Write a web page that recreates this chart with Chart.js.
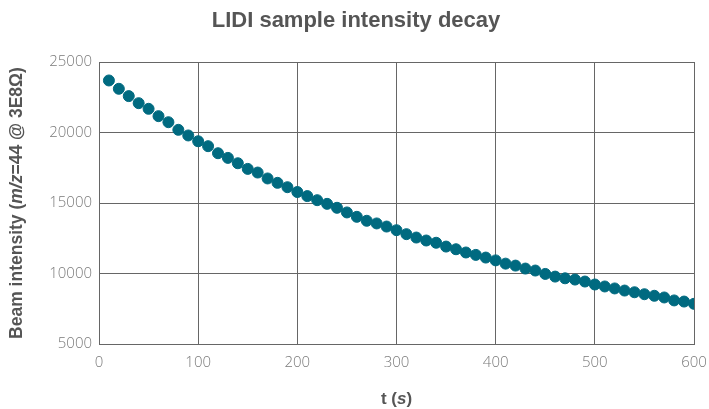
<!DOCTYPE html>
<html>
<head>
<meta charset="utf-8">
<script src="https://cdn.jsdelivr.net/npm/chart.js@4"></script>
<style>
  html, body { margin: 0; padding: 0; background: #fff; }
</style>
</head>
<body>
<canvas id="decay" width="709" height="409"></canvas>
<script>
"use strict";

const times = [10, 20, 30, 40, 50, 60, 70, 80, 90, 100,
  110, 120, 130, 140, 150, 160, 170, 180, 190, 200,
  210, 220, 230, 240, 250, 260, 270, 280, 290, 300,
  310, 320, 330, 340, 350, 360, 370, 380, 390, 400,
  410, 420, 430, 440, 450, 460, 470, 480, 490, 500,
  510, 520, 530, 540, 550, 560, 570, 580, 590, 600];
const intensity = [23690, 23100, 22580, 22080, 21680, 21160, 20730, 20190, 19790, 19380,
  19030, 18530, 18200, 17820, 17420, 17160, 16740, 16430, 16120, 15780,
  15490, 15200, 14940, 14660, 14330, 14020, 13740, 13550, 13330, 13070,
  12790, 12550, 12340, 12180, 11910, 11720, 11490, 11320, 11130, 10930,
  10700, 10560, 10350, 10210, 9970, 9780, 9660, 9570, 9430, 9220,
  9080, 8940, 8790, 8670, 8530, 8420, 8300, 8090, 8010, 7850];
const xTicks = [0, 100, 200, 300, 400, 500, 600];
const yTicks = [5000, 10000, 15000, 20000, 25000];

const FONT = "'Liberation Sans', Helvetica, Arial, sans-serif";
const TICK_FONT = "'Open Sans', 'Liberation Sans', sans-serif";

// draw a line of text made of plain / italic runs
function richText(ctx, runs, x, y, size, weight) {
  let widths = runs.map((r) => {
    ctx.font = `${r.italic ? "italic " : ""}${weight} ${size}px ${FONT}`;
    return ctx.measureText(r.text).width;
  });
  let total = widths.reduce((a, b) => a + b, 0);
  let cx = x - total / 2;
  runs.forEach((r, i) => {
    ctx.font = `${r.italic ? "italic " : ""}${weight} ${size}px ${FONT}`;
    ctx.fillText(r.text, cx, y);
    cx += widths[i];
  });
}

const labels = {
  id: "labels",
  afterDraw(chart) {
    const ctx = chart.ctx;
    const area = chart.chartArea;
    ctx.save();
    ctx.fillStyle = "#555";
    ctx.textAlign = "left";
    ctx.textBaseline = "middle";
    richText(ctx, [{ text: "LIDI sample intensity decay" }], 356, 21, 22, "bold");
    richText(ctx, [{ text: "t (" }, { text: "s", italic: true }, { text: ")" }],
      (area.left + area.right) / 2, 399, 17, "bold");
    ctx.translate(17, (area.top + area.bottom) / 2);
    ctx.rotate(-Math.PI / 2);
    richText(ctx, [{ text: "Beam intensity (" }, { text: "m/z", italic: true },
      { text: "=44 @ 3E8Ω)" }], 0, 0, 17.5, "bold");
    ctx.restore();
  },
};

new Chart(document.getElementById("decay"), {
  type: "scatter",
  data: {
    datasets: [
      {
        data: times.map((t, i) => ({ x: t, y: intensity[i] })),
        backgroundColor: "#006a80",
        borderColor: "#006a80",
        pointRadius: 5.5,
        pointHoverRadius: 5.5,
      },
    ],
  },
  options: {
    responsive: false,
    animation: false,
    layout: { padding: { left: 0, right: 15, top: 62, bottom: 0 } },
    plugins: {
      legend: { display: false },
      title: { display: false },
      tooltip: { enabled: false },
    },
    scales: {
      x: {
        type: "linear",
        min: 0,
        max: 600,
        afterBuildTicks: (scale) => {
          scale.ticks = xTicks.map((v) => ({ value: v }));
        },
        afterFit: (scale) => {
          scale.height = 65;
          scale.paddingLeft = 0;
          scale.paddingRight = 0;
        },
        grid: { color: "#666", drawTicks: false },
        border: { color: "#666" },
        ticks: {
          padding: 10,
          color: "#7a7a7a",
          font: { family: TICK_FONT, size: 15, weight: 300 },
          callback: (v) => String(v),
        },
      },
      y: {
        min: 5000,
        max: 25000,
        afterBuildTicks: (scale) => {
          scale.ticks = yTicks.map((v) => ({ value: v }));
        },
        afterFit: (scale) => {
          scale.width = 99;
          scale.paddingTop = 0;
          scale.paddingBottom = 0;
        },
        grid: { color: "#666", drawTicks: false },
        border: { color: "#666" },
        ticks: {
          padding: 7,
          color: "#7a7a7a",
          font: { family: TICK_FONT, size: 15, weight: 300 },
          callback: (v) => String(v),
        },
      },
    },
  },
  plugins: [labels],
});
</script>
</body>
</html>
